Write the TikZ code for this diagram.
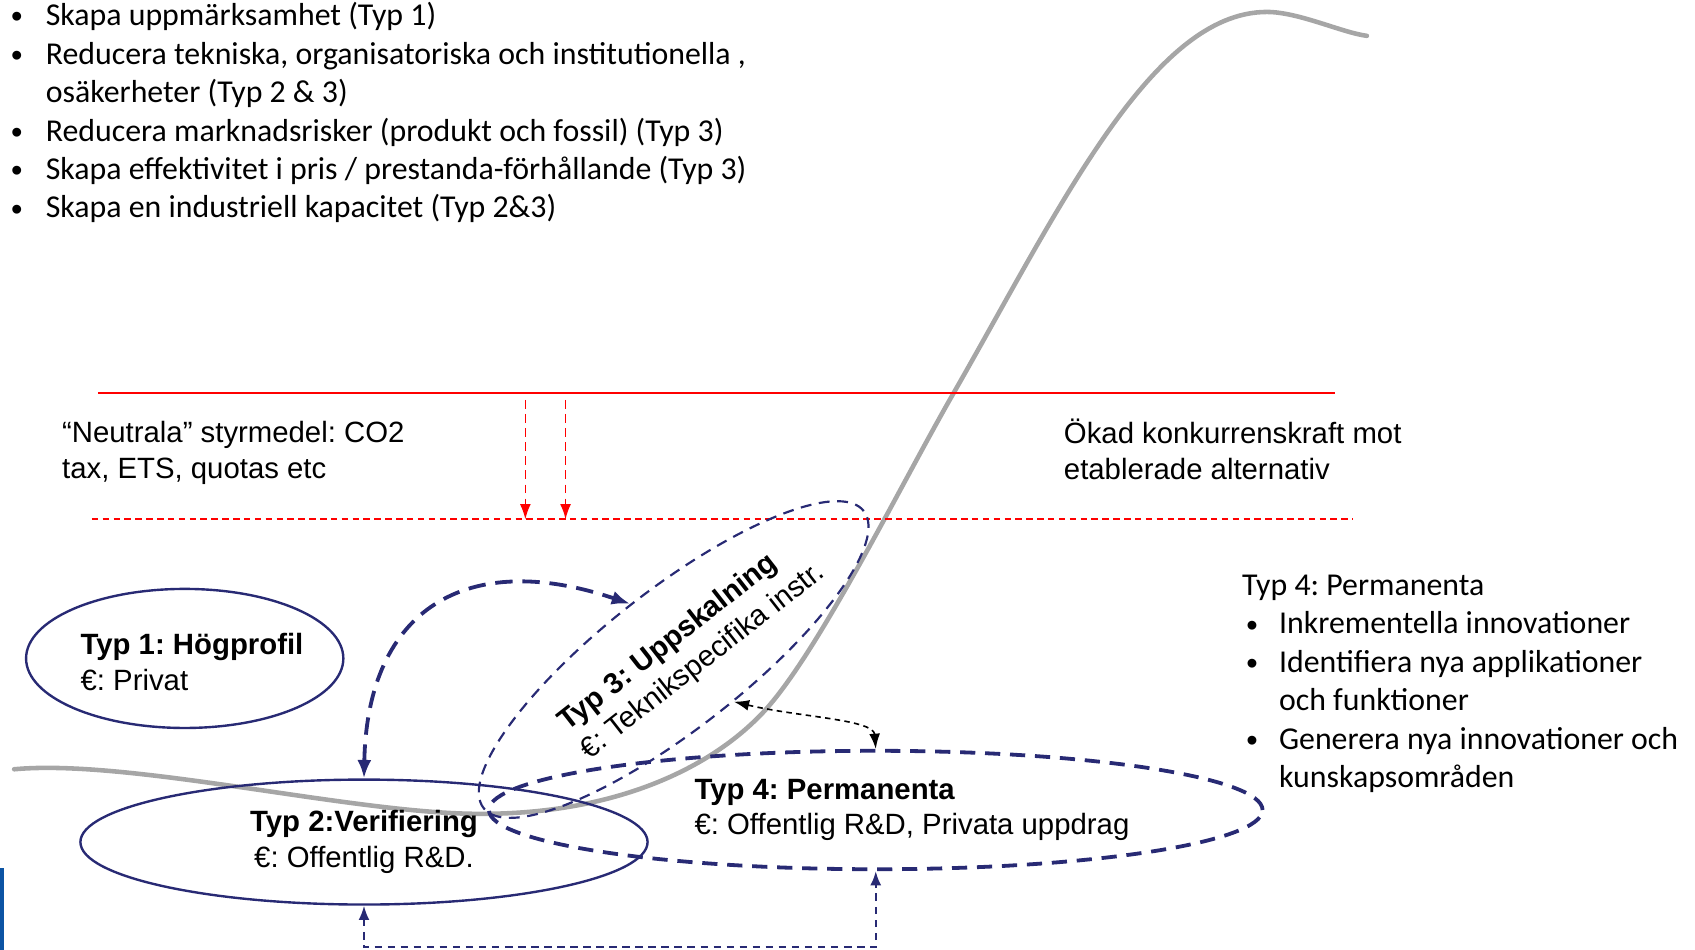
\documentclass[tikz,border=0pt]{standalone}
\usepackage{fontspec}
\setmainfont{Liberation Sans}
\newfontfamily\calibri{Carlito}
\usetikzlibrary{shapes.geometric,arrows.meta,positioning}
\definecolor{navy}{RGB}{40,42,116}
\definecolor{curvegray}{RGB}{166,166,166}
\definecolor{slideblue}{RGB}{12,84,164}
\frenchspacing
\newcommand{\bulsign}{\raisebox{-2pt}{\rmfamily\fontsize{30}{30}\selectfont •}}
\newcommand{\bul}{\makebox[32pt][l]{\bulsign}}
\newcommand{\subbul}{\hspace*{4pt}\makebox[30pt][l]{\bulsign}}
\tikzset{%
  font=\fontsize{27}{33}\selectfont,
  ell/.style={ellipse,draw=navy,inner sep=0pt,align=center},
  ellsolid/.style={ell,line width=2.2pt},
  elldash/.style={ell,line width=3.5pt,dash pattern=on 14pt off 9pt},
  ellthin/.style={ell,line width=2pt,dash pattern=on 10pt off 7pt},
  lbl/.style={inner sep=0pt,align=left,anchor=west},
  bullets/.style={inner sep=0pt,align=left,anchor=north west,
    font=\calibri\fontsize{29.3}{35.4}\selectfont},
  redline/.style={draw=red,line width=2pt},
  redarrow/.style={draw=red,line width=1.5pt,dash pattern=on 8pt off 5pt,
    -{Latex[length=14pt,width=10pt]},red},
  link/.style={draw=navy,line width=3.5pt,dash pattern=on 16pt off 9pt,
    {Latex[length=17pt,width=13pt]}-{Latex[length=17pt,width=13pt]},navy},
  blacklink/.style={draw=black,line width=1.5pt,dash pattern=on 5pt off 4pt,
    {Latex[length=14pt,width=10pt]}-{Latex[length=14pt,width=10pt]}},
  botlink/.style={draw=navy,line width=1.8pt,dash pattern=on 7pt off 5pt,
    {Latex[length=13pt,width=10pt]}-{Latex[length=13pt,width=10pt]},navy}
}
\begin{document}
\begin{tikzpicture}[x=1pt,y=-1pt]
	\useasboundingbox (0,0) rectangle (1560,874);
	% S-curve
	\draw[curvegray,line width=4.2pt,line cap=round]
		(13,708) .. controls (120,698) and (330,750) .. (444,749)
		.. controls (560,749) and (650,711) .. (702,656)
		.. controls (752,603) and (827.5,449) .. (877.5,362)
		.. controls (975,192) and (1060,11) .. (1166,11)
		.. controls (1195,11) and (1235,30) .. (1258,33);
	% policy levels
	\coordinate (solidL) at (90,361.5);
	\coordinate (solidR) at (1229,361.5);
	\coordinate (dashL) at (84.5,478);
	\coordinate (dashR) at (1245,478);
	\draw[redline] (solidL) -- (solidR);
	\draw[redline,dash pattern=on 6pt off 4pt] (dashL) -- (dashR);
	\foreach \x [count=\i] in {483.5,520.5} {
		\coordinate (rtop\i) at (\x,368);
		\coordinate (rbot\i) at (\x,478);
		\draw[redarrow] (rtop\i) -- (rbot\i);
	}
	\node[lbl] (neutral) at (57,416.5) {“Neutrala” styrmedel: CO2\\tax, ETS, quotas etc};
	\node[lbl] (okad) at (979,413.5) {Ökad konkurrenskraft mot\\etablerade alternativ};
	% types
	\node[ellsolid,minimum width=292pt,minimum height=128pt] (typ1) at (170,606) {};
	\node[lbl] (typ1txt) at (74,609) {\textbf{Typ 1: Högprofil}\\€: Privat};
	\node[ellsolid,minimum width=522pt,minimum height=115pt] (typ2) at (335,775)
		{\textbf{Typ 2:Verifiering}\\€: Offentlig R\&D.};
	\node[elldash,minimum width=712pt,minimum height=109pt] (typ4) at (806,745.5) {};
	\node[lbl] (typ4txt) at (639,745.5) {\textbf{Typ 4: Permanenta}\\€: Offentlig R\&D, Privata uppdrag};
	\node[ellthin,rotate=38,minimum width=444pt,minimum height=128pt] (typ3) at (620,607) {};
	\node[inner sep=0pt,align=left,rotate=38] (typ3txt) at (637,596)
		{\textbf{Typ 3: Uppskalning}\\€: Teknikspecifika instr.};
	% links
	\draw[link] (typ2.north) .. controls (338,560) and (430,505) .. (typ3.north);
	\draw[blacklink] (typ3.-73) .. controls (735,660) and (804,662) .. (typ4.north);
	\coordinate (botpt) at (0,872);
	\draw[botlink] (typ2.south) -- (typ2.south |- botpt) -| (typ4.south);
	% bullet lists
	\node[bullets] (aims) at (10,2) {\bul Skapa uppmärksamhet (Typ 1)\\
		\bul Reducera tekniska, organisatoriska och institutionella ,\\
		\hspace*{32pt}osäkerheter (Typ 2 \& 3)\\
		\bul Reducera marknadsrisker (produkt och fossil) (Typ 3)\\
		\bul Skapa effektivitet i pris / prestanda-förhållande (Typ 3)\\
		\bul Skapa en industriell kapacitet (Typ 2\&3)};
	\node[bullets] (typ4list) at (1143,529) {Typ 4: Permanenta\\
		\subbul Inkrementella innovationer\\
		\subbul Identifiera nya applikationer\\
		\hspace*{34pt}och funktioner\\
		\subbul Generera nya innovationer och\\
		\hspace*{34pt}kunskapsområden};
	\fill[slideblue] (0,799) rectangle (4,874);
\end{tikzpicture}
\end{document}
